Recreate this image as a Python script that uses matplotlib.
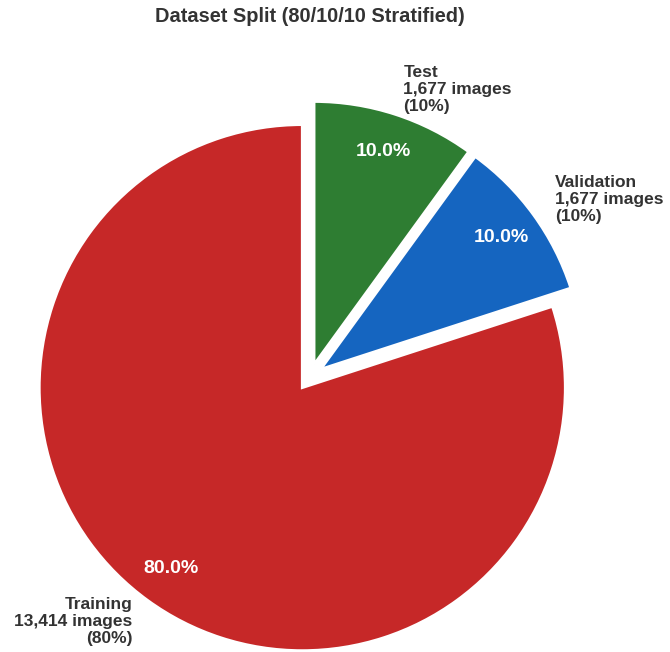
import matplotlib
matplotlib.use("Agg")
import matplotlib.pyplot as plt

splits = ["Training", "Validation", "Test"]
counts = [13414, 1677, 1677]
shares = [80, 10, 10]
colors = ["#C62828", "#1565C0", "#2E7D32"]
explode = [0.05, 0.05, 0.05]

plt.rcParams["font.family"] = ["Liberation Sans", "DejaVu Sans"]

W, H = 670, 652
fig = plt.figure(figsize=(W / 100, H / 100), dpi=100)
ax = fig.add_axes([0, 0, 1, 1])

labels = [f"{n}\n{c:,} images\n({s}%)" for n, c, s in zip(splits, counts, shares)]

wedges, texts, autotexts = ax.pie(
    counts,
    labels=labels,
    colors=colors,
    explode=explode,
    startangle=90,
    autopct="%1.1f%%",
    pctdistance=0.85,
    labeldistance=1.1,
    wedgeprops=dict(edgecolor="white", linewidth=2),
    textprops=dict(fontsize=12.5, fontweight="bold", color="#333333"),
)
for t in texts:
    t.set_linespacing(1.15)
for t in autotexts:
    t.set_color("white")
    t.set_fontsize(14)
    t.set_fontweight("bold")

# pie centre at (310, 377) px, radius 263 px
cx, cy, r = 310, 377, 263
ax.set_xlim(-cx / r, (W - cx) / r)
ax.set_ylim((cy - H) / r, cy / r)
ax.set_aspect("auto")
ax.axis("off")

fig.text(310 / W, 1 - 17 / H, "Dataset Split (80/10/10 Stratified)",
         ha="center", va="center", fontsize=14.4, fontweight="bold", color="#333333")

fig.savefig("out.png", dpi=100, facecolor="white")
